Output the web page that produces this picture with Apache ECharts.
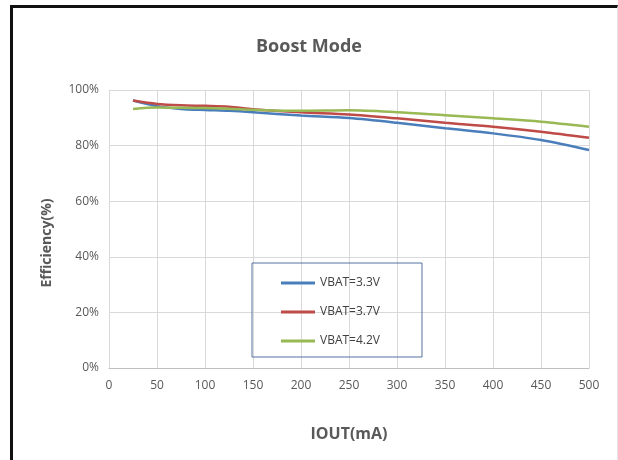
<!DOCTYPE html>
<html>
<head>
<meta charset="utf-8">
<script src="https://cdn.jsdelivr.net/npm/echarts@6/dist/echarts.min.js"></script>
<style>
html,body{margin:0;padding:0;background:#fff;}
#frame{position:absolute;left:10px;top:5px;width:608px;height:455px;border-left:3px solid #111;border-top:3px solid #111;border-right:1px solid #e6e6e6;box-sizing:border-box;}
#chart{position:absolute;left:0;top:0;width:618px;height:460px;}
</style>
</head>
<body>
<div id="frame"></div>
<div id="chart"></div>
<script>
const iout = [25, 50, 75, 100, 125, 150, 200, 250, 300, 350, 400, 450, 500];
const vbat33 = [96.2, 94.2, 93.2, 92.8, 92.5, 92.0, 90.8, 89.9, 88.2, 86.2, 84.4, 82.0, 78.4];
const vbat37 = [96.2, 95.0, 94.5, 94.3, 94.0, 93.1, 92.0, 91.2, 89.8, 88.2, 86.8, 85.0, 82.8];
const vbat42 = [93.2, 93.7, 93.6, 93.5, 93.3, 92.9, 92.5, 92.7, 92.0, 90.9, 89.8, 88.6, 86.8];
const seriesNames = ['VBAT=3.3V', 'VBAT=3.7V', 'VBAT=4.2V'];
const yTicks = [0, 20, 40, 60, 80, 100];
const xTicks = [0, 50, 100, 150, 200, 250, 300, 350, 400, 450, 500];

const font = "'Open Sans', sans-serif";
const colors = ['#4a7ebb', '#be4b48', '#98b954'];
const pairs = arr => iout.map((x, i) => [x, arr[i]]);

const chart = echarts.init(document.getElementById('chart'), null, {renderer: 'canvas'});
chart.setOption({
  animation: false,
  title: {
    text: 'Boost Mode', left: 'center', top: 33,
    textStyle: {fontFamily: font, fontWeight: 700, fontSize: 18, color: '#595959'}
  },
  grid: {left: 109, right: 29, top: 90, bottom: 92, containLabel: false},
  legend: {
    orient: 'vertical', left: 252, top: 263,
    data: seriesNames,
    icon: 'rect', itemWidth: 34, itemHeight: 3, itemGap: 17,
    borderColor: '#5470a0', borderWidth: 1,
    padding: [14, 42, 10, 29],
    textStyle: {fontFamily: font, fontSize: 12, color: '#404040'}
  },
  xAxis: {
    type: 'value', min: xTicks[0], max: xTicks[xTicks.length - 1], interval: 50,
    name: 'IOUT(mA)', nameLocation: 'middle', nameGap: 58,
    nameTextStyle: {fontFamily: font, fontWeight: 700, fontSize: 16, color: '#595959'},
    axisLine: {lineStyle: {color: '#bfbfbf'}},
    axisTick: {show: false},
    axisLabel: {fontFamily: font, fontSize: 12, color: '#595959', margin: 12},
    splitLine: {show: true, lineStyle: {color: '#d9d9d9'}}
  },
  yAxis: {
    type: 'value', min: yTicks[0], max: yTicks[yTicks.length - 1], interval: 20,
    name: 'Efficiency(%)', nameLocation: 'middle', nameGap: 55,
    nameTextStyle: {fontFamily: font, fontWeight: 700, fontSize: 14, color: '#595959', padding: [0, 0, 0, -28]},
    axisLine: {show: true, lineStyle: {color: '#d9d9d9'}},
    axisTick: {show: false},
    axisLabel: {fontFamily: font, fontSize: 12, color: '#595959', margin: 10, formatter: '{value}%'},
    splitLine: {show: true, lineStyle: {color: '#d9d9d9'}}
  },
  series: [
    {name: seriesNames[0], type: 'line', smooth: 0.3, showSymbol: false, symbol: 'none', data: pairs(vbat33), lineStyle: {width: 2.5, color: colors[0]}, itemStyle: {color: colors[0]}},
    {name: seriesNames[1], type: 'line', smooth: 0.3, showSymbol: false, symbol: 'none', data: pairs(vbat37), lineStyle: {width: 2.5, color: colors[1]}, itemStyle: {color: colors[1]}},
    {name: seriesNames[2], type: 'line', smooth: 0.3, showSymbol: false, symbol: 'none', data: pairs(vbat42), lineStyle: {width: 2.5, color: colors[2]}, itemStyle: {color: colors[2]}}
  ]
});
</script>
</body>
</html>
